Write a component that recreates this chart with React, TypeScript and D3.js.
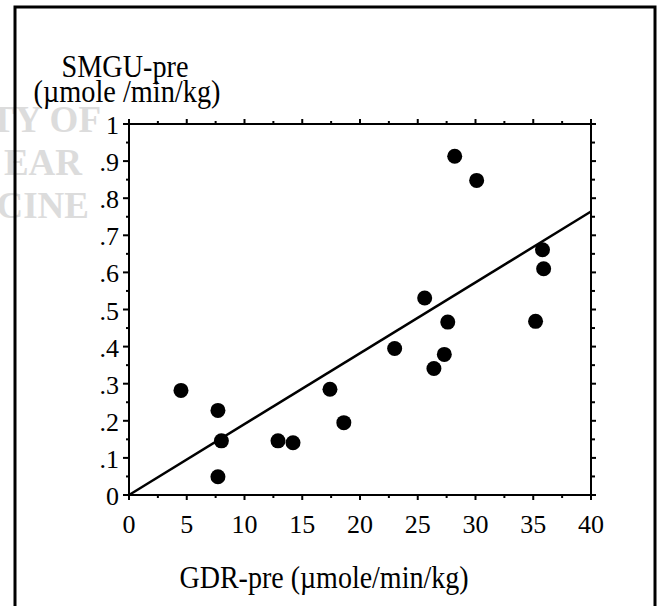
import React from 'react';
import { scaleLinear, range } from 'd3';

// GDR-pre vs SMGU-pre
const gdrPre = [4.5, 7.7, 8.0, 7.7, 12.9, 14.2, 17.4, 18.6, 23.0, 25.6, 27.6, 27.3, 26.4, 35.2, 35.9, 35.8, 28.2, 30.1];
const smguPre = [0.282, 0.228, 0.146, 0.049, 0.146, 0.141, 0.285, 0.195, 0.395, 0.531, 0.466, 0.379, 0.341, 0.468, 0.610, 0.661, 0.913, 0.848];

// fitted line: y = intercept + slope * x
const fitIntercept = 0.0;
const fitSlope = 0.0191;

const xTickLabels = ['0', '5', '10', '15', '20', '25', '30', '35', '40'];
const yTickLabels = ['0', '.1', '.2', '.3', '.4', '.5', '.6', '.7', '.8', '.9', '1'];
const watermark = ['TY OF', 'EAR', 'CINE'];

const width = 660;
const height = 606;
const margin = { top: 124, right: 69, bottom: 111, left: 129 };
const font = '"Liberation Serif", "Times New Roman", serif';

const App = () => {
  const innerWidth = width - margin.left - margin.right;
  const innerHeight = height - margin.top - margin.bottom;

  const xScale = scaleLinear().domain([0, 40]).range([0, innerWidth]);
  const yScale = scaleLinear().domain([0, 1]).range([innerHeight, 0]);

  const xMinor = range(0, 40.01, 2.5);
  const yMinor = range(0, 1.001, 0.05);

  return (
    <svg width={width} height={height} style={{ position: 'absolute', left: 0, top: 0, background: '#fff' }}>
      {/* faint watermark */}
      <g fill="#dcdcdc" fontFamily={font} fontWeight="bold" fontSize={37} textAnchor="end">
        {watermark.map((t, i) => (
          <text key={t} x={[101, 82, 89][i]} y={132 + i * 43}>{t}</text>
        ))}
      </g>

      {/* outer frame */}
      <rect x={15} y={7} width={640} height={620} fill="none" stroke="#000" strokeWidth={3} />

      {/* y title */}
      <g fontFamily={font} fontSize={31} textAnchor="middle" fill="#000">
        <text x={125} y={77} textLength={127} lengthAdjust="spacingAndGlyphs">SMGU-pre</text>
        <text x={127} y={102} textLength={187} lengthAdjust="spacingAndGlyphs">(µmole /min/kg)</text>
      </g>

      <g transform={`translate(${margin.left}, ${margin.top})`}>
        {/* plot box */}
        <rect x={0} y={0} width={innerWidth} height={innerHeight} fill="none" stroke="#000" strokeWidth={2} />

        {/* bottom + top ticks */}
        {xMinor.map((d, i) => (
          <g key={'xt' + i}>
            <line x1={xScale(d)} x2={xScale(d)} y1={innerHeight} y2={innerHeight + (i % 2 === 0 ? 5 : 3)} stroke="#000" strokeWidth={2} />
            <line x1={xScale(d)} x2={xScale(d)} y1={0} y2={-(i % 2 === 0 ? 5 : 3)} stroke="#000" strokeWidth={2} />
          </g>
        ))}

        {/* left + right ticks */}
        {yMinor.map((d, i) => (
          <g key={'yt' + i}>
            <line x1={0} x2={-(i % 2 === 0 ? 6 : 3)} y1={yScale(d)} y2={yScale(d)} stroke="#000" strokeWidth={2} />
            <line x1={innerWidth} x2={innerWidth + (i % 2 === 0 ? 5 : 4)} y1={yScale(d)} y2={yScale(d)} stroke="#000" strokeWidth={2} />
          </g>
        ))}

        {/* tick labels */}
        <g fontFamily={font} fontSize={26} fill="#000">
          {xTickLabels.map((t, i) => (
            <text key={t} x={xScale(i * 5)} y={innerHeight + 38} textAnchor="middle">{t}</text>
          ))}
          {yTickLabels.map((t, i) => (
            <text key={t} x={-10} y={yScale(i / 10) + 10} textAnchor="end">{t}</text>
          ))}
        </g>

        {/* regression line */}
        <line
          x1={xScale(0)}
          y1={yScale(fitIntercept)}
          x2={xScale(40)}
          y2={yScale(fitIntercept + fitSlope * 40)}
          stroke="#000"
          strokeWidth={2.5}
        />

        {/* points */}
        {gdrPre.map((x, i) => (
          <circle key={i} cx={xScale(x)} cy={yScale(smguPre[i])} r={7.5} fill="#000" />
        ))}
      </g>

      {/* x title */}
      <text x={324} y={588} fontFamily={font} fontSize={31} textAnchor="middle" fill="#000" textLength={289} lengthAdjust="spacingAndGlyphs">
        GDR-pre (µmole/min/kg)
      </text>
    </svg>
  );
};

export default App;
